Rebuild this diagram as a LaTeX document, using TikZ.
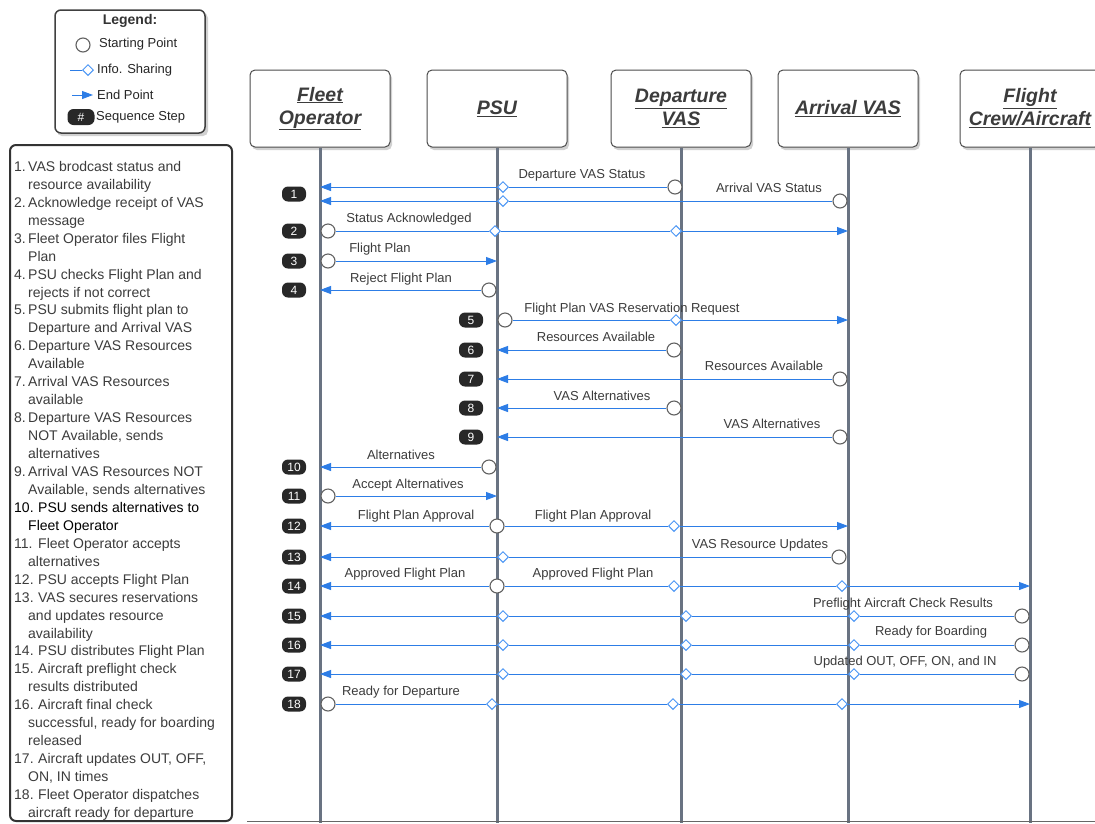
\documentclass[tikz,border=0pt]{standalone}
\usepackage{fontspec}
\setmainfont{Liberation Sans}
\usetikzlibrary{arrows.meta,shapes.geometric}
\definecolor{msgblue}{RGB}{45,125,230}
\definecolor{dia}{RGB}{75,150,245}
\definecolor{lifegray}{RGB}{105,115,130}
\definecolor{txt}{RGB}{60,60,60}
\definecolor{badgebk}{RGB}{40,40,40}
\newcommand\snum[1]{\makebox[14pt][l]{#1}}
\newcommand\snumb[1]{\makebox[24pt][l]{#1}}
\begin{document}
\begin{tikzpicture}[x=1pt,y=-1pt,
  lifeline/.style={draw=lifegray, line width=3pt},
  hdr/.style={draw=black!70, fill=white, rounded corners=5pt, line width=1pt, minimum width=140pt, minimum height=77pt, inner sep=0pt, font=\fontsize{19.5}{23}\selectfont\bfseries\itshape, text=txt, align=center},
  shadowbox/.style={fill=black!18, rounded corners=5pt},
  startpt/.style={circle, draw=black!62, fill=white, minimum size=14pt, inner sep=0pt, line width=1.1pt},
  infopt/.style={diamond, draw=dia, fill=white, minimum size=11pt, inner sep=0pt, line width=1pt},
  msg/.style={draw=msgblue, line width=0.9pt},
  endarrow/.style={-{Triangle[length=11pt,width=8pt]}},
  badge/.style={fill=badgebk, rounded corners=6pt, minimum width=24pt, minimum height=15pt, inner sep=0pt, text=white, font=\fontsize{12}{12}\selectfont},
  lbl/.style={font=\fontsize{13}{13}\selectfont, text=txt, anchor=base, inner sep=0pt},
  steptext/.style={font=\fontsize{14}{14}\selectfont, text=txt, anchor=base west, inner sep=0pt},
  legtext/.style={font=\fontsize{13}{13}\selectfont, text=black!85, anchor=west, inner sep=0pt}
]
\useasboundingbox (0,0) rectangle (1095,823);
\fill[white] (0,0) rectangle (1095,823);

% ---------- Legend ----------
\fill[shadowbox] (57,13) rectangle (208,136);
\node[draw=black!75, fill=white, line width=1.5pt, rounded corners=6pt, minimum width=150pt, minimum height=123pt, inner sep=0pt] (legend) at (130,71.5) {};
\node[font=\fontsize{14}{14}\selectfont\bfseries, text=black!80] (legtitle) at (130,21) {Legend:};
\node[startpt] (lgs) at (83,45) {};
\node[legtext] (lgst) at (99,44) {Starting Point};
\coordinate (lgi0) at (70,70);
\node[infopt] (lgi) at (88,70) {};
\draw[msg] (lgi0) -- (lgi);
\node[legtext] (lgit) at (97,70) {Info. Sharing};
\coordinate (lge0) at (72,95);
\coordinate (lge) at (93,95);
\draw[msg,endarrow] (lge0) -- (lge);
\node[legtext] (lget) at (97,95) {End Point};
\node[badge, minimum width=27pt, minimum height=16pt] (lgb) at (81,117) {\#};
\node[legtext] (lgbt) at (96,117) {Sequence Step};

% ---------- Steps box ----------
\draw[black!80, line width=2pt, rounded corners=6pt] (10,145) rectangle (232,821);
\foreach \yy/\tx/\xx [count=\i] in {
 166/{\snum{1.}VAS brodcast status and}/14,
 184/{resource availability}/28,
 202/{\snum{2.}Acknowledge receipt of VAS}/14,
 220/{message}/28,
 238/{\snum{3.}Fleet Operator files Flight}/14,
 256/{Plan}/28,
 274/{\snum{4.}PSU checks Flight Plan and}/14,
 292/{rejects if not correct}/28,
 309.5/{\snum{5.}PSU submits flight plan to}/14,
 327.5/{Departure and Arrival VAS}/28,
 345.5/{\snum{6.}Departure VAS Resources}/14,
 363.5/{Available}/28,
 381.5/{\snum{7.}Arrival VAS Resources}/14,
 399.5/{available}/28,
 417.5/{\snum{8.}Departure VAS Resources}/14,
 435.5/{NOT Available, sends}/28,
 453.5/{alternatives}/28,
 471.5/{\snum{9.}Arrival VAS Resources NOT}/14,
 489.5/{Available, sends alternatives}/28,
 507/{\color{black}\snumb{10.}PSU sends alternatives to}/14,
 525/{\color{black}Fleet Operator}/28,
 543/{\snumb{11.}Fleet Operator accepts}/14,
 561/{alternatives}/28,
 579/{\snumb{12.}PSU accepts Flight Plan}/14,
 597/{\snumb{13.}VAS secures reservations}/14,
 615/{and updates resource}/28,
 633/{availability}/28,
 650.5/{\snumb{14.}PSU distributes Flight Plan}/14,
 668.5/{\snumb{15.}Aircraft preflight check}/14,
 686.5/{results distributed}/28,
 704.5/{\snumb{16.}Aircraft final check}/14,
 722.5/{successful, ready for boarding}/28,
 740.5/{released}/28,
 758/{\snumb{17.}Aircraft updates OUT, OFF,}/14,
 776/{ON, IN times}/28,
 794/{\snumb{18.}Fleet Operator dispatches}/14,
 812/{aircraft ready for departure}/28}
 { \node[steptext] (st\i) at (\xx,\yy+5) {\tx}; }

% ---------- Headers ----------
\fill[shadowbox] (252,73) rectangle (392,150);
\fill[shadowbox] (429,73) rectangle (569,150);
\fill[shadowbox] (613,73) rectangle (753,150);
\fill[shadowbox] (780,73) rectangle (920,150);
\fill[shadowbox] (962,73) rectangle (1102,150);
\node[hdr] (fo) at (320,108.5) {\underline{Fleet}\\\underline{Operator}};
\node[hdr] (psu) at (497,108.5) {\underline{PSU}};
\node[hdr] (dep) at (681,108.5) {\underline{Departure}\\\underline{VAS}};
\node[hdr] (arr) at (848,108.5) {\underline{Arrival VAS}};
\node[hdr] (fc) at (1030,108.5) {\underline{Flight}\\\underline{Crew/Aircraft}};

% ---------- Lifelines ----------
\coordinate (fob) at (320,823);
\coordinate (psub) at (497,823);
\coordinate (depb) at (681,823);
\coordinate (arrb) at (848,823);
\coordinate (fcb) at (1030,823);
\draw[lifeline] (fo.south) -- (fob);
\draw[lifeline] (psu.south) -- (psub);
\draw[lifeline] (dep.south) -- (depb);
\draw[lifeline] (arr.south) -- (arrb);
\draw[lifeline] (fc.south) -- (fcb);
\coordinate (bl) at (247,821);
\coordinate (br) at (1095,821);
\draw[black!60, line width=1pt] (bl) -- (br);

% ---------- Badges ----------
\foreach \n/\xx/\yy in {1/294/194, 2/294/231, 3/294/261, 4/294/290, 5/471/320, 6/471/350, 7/471/379, 8/471/408, 9/471/437, 10/294/467, 11/294/496, 12/294/526, 13/294/557, 14/294/586, 15/294/616, 16/294/645, 17/294/674, 18/294/704}
 { \node[badge] (b\n) at (\xx,\yy) {\n}; }

% ---------- Messages ----------
% 1a
\node[startpt] (s1a) at (675,187) {};
\node[infopt] (d1a) at (503,187) {};
\coordinate (e1a) at (320,187);
\draw[msg,endarrow] (s1a) -- (d1a) -- (e1a);
\node[lbl] (l1a) at (582,178.5) {Departure VAS Status};
% 1b
\node[startpt] (s1b) at (840,201) {};
\node[infopt] (d1b) at (503,201) {};
\coordinate (e1b) at (320,201);
\draw[msg,endarrow] (s1b) -- (d1b) -- (e1b);
\node[lbl] (l1b) at (769,192.5) {Arrival VAS Status};
% 2
\node[startpt] (s2) at (328,231) {};
\node[infopt] (d2a) at (495,231) {};
\node[infopt] (d2b) at (676,231) {};
\coordinate (e2) at (848,231);
\draw[msg,endarrow] (s2) -- (d2a) -- (d2b) -- (e2);
\node[lbl] (l2) at (409,222.5) {Status Acknowledged};
% 3
\node[startpt] (s3) at (328,261) {};
\coordinate (e3) at (497,261);
\draw[msg,endarrow] (s3) -- (e3);
\node[lbl] (l3) at (380,252.5) {Flight Plan};
% 4
\node[startpt] (s4) at (489,290) {};
\coordinate (e4) at (320,290);
\draw[msg,endarrow] (s4) -- (e4);
\node[lbl] (l4) at (401,282.5) {Reject Flight Plan};
% 5
\node[startpt] (s5) at (505,320) {};
\node[infopt] (d5) at (676,320) {};
\coordinate (e5) at (848,320);
\draw[msg,endarrow] (s5) -- (d5) -- (e5);
\node[lbl] (l5) at (632,312.5) {Flight Plan VAS Reservation Request};
% 6
\node[startpt] (s6) at (674,350) {};
\coordinate (e6) at (497,350);
\draw[msg,endarrow] (s6) -- (e6);
\node[lbl] (l6) at (596,341.5) {Resources Available};
% 7
\node[startpt] (s7) at (840,379) {};
\coordinate (e7) at (497,379);
\draw[msg,endarrow] (s7) -- (e7);
\node[lbl] (l7) at (764,370.5) {Resources Available};
% 8
\node[startpt] (s8) at (674,408) {};
\coordinate (e8) at (497,408);
\draw[msg,endarrow] (s8) -- (e8);
\node[lbl] (l8) at (602,400.5) {VAS Alternatives};
% 9
\node[startpt] (s9) at (840,437) {};
\coordinate (e9) at (497,437);
\draw[msg,endarrow] (s9) -- (e9);
\node[lbl] (l9) at (772,428.5) {VAS Alternatives};
% 10
\node[startpt] (s10) at (489,467) {};
\coordinate (e10) at (320,467);
\draw[msg,endarrow] (s10) -- (e10);
\node[lbl] (l10) at (401,459.5) {Alternatives};
% 11
\node[startpt] (s11) at (328,496) {};
\coordinate (e11) at (497,496);
\draw[msg,endarrow] (s11) -- (e11);
\node[lbl] (l11) at (408,488.5) {Accept Alternatives};
% 12
\node[startpt] (s12) at (497,526) {};
\coordinate (e12a) at (320,526);
\node[infopt] (d12) at (674,526) {};
\coordinate (e12b) at (848,526);
\draw[msg,endarrow] (s12) -- (e12a);
\draw[msg,endarrow] (s12) -- (d12) -- (e12b);
\node[lbl] (l12a) at (416,519.5) {Flight Plan Approval};
\node[lbl] (l12b) at (593,519.5) {Flight Plan Approval};
% 13
\node[startpt] (s13) at (839,557) {};
\node[infopt] (d13) at (503,557) {};
\coordinate (e13) at (320,557);
\draw[msg,endarrow] (s13) -- (d13) -- (e13);
\node[lbl] (l13) at (760,548.5) {VAS Resource Updates};
% 14
\node[startpt] (s14) at (497,586) {};
\coordinate (e14a) at (320,586);
\node[infopt] (d14a) at (674,586) {};
\node[infopt] (d14b) at (842,586) {};
\coordinate (e14b) at (1030,586);
\draw[msg,endarrow] (s14) -- (e14a);
\draw[msg,endarrow] (s14) -- (d14a) -- (d14b) -- (e14b);
\node[lbl] (l14a) at (405,577.5) {Approved Flight Plan};
\node[lbl] (l14b) at (593,577.5) {Approved Flight Plan};
% 15-17
\foreach \r/\yy/\lx/\ly/\tx in {15/616/903/607.5/{Preflight Aircraft Check Results}, 16/645/931/635.5/{Ready for Boarding}, 17/674/905/665.5/{Updated OUT, OFF, ON, and IN}} {
  \node[startpt] (s\r) at (1022,\yy) {};
  \node[infopt] (d\r a) at (854,\yy) {};
  \node[infopt] (d\r b) at (686,\yy) {};
  \node[infopt] (d\r c) at (503,\yy) {};
  \coordinate (e\r) at (320,\yy);
  \draw[msg,endarrow] (s\r) -- (d\r a) -- (d\r b) -- (d\r c) -- (e\r);
  \node[lbl] (l\r) at (\lx,\ly) {\tx};
}
% 18
\node[startpt] (s18) at (328,704) {};
\node[infopt] (d18a) at (492,704) {};
\node[infopt] (d18b) at (673,704) {};
\node[infopt] (d18c) at (842,704) {};
\coordinate (e18) at (1030,704);
\draw[msg,endarrow] (s18) -- (d18a) -- (d18b) -- (d18c) -- (e18);
\node[lbl] (l18) at (401,695.5) {Ready for Departure};
\end{tikzpicture}
\end{document}
